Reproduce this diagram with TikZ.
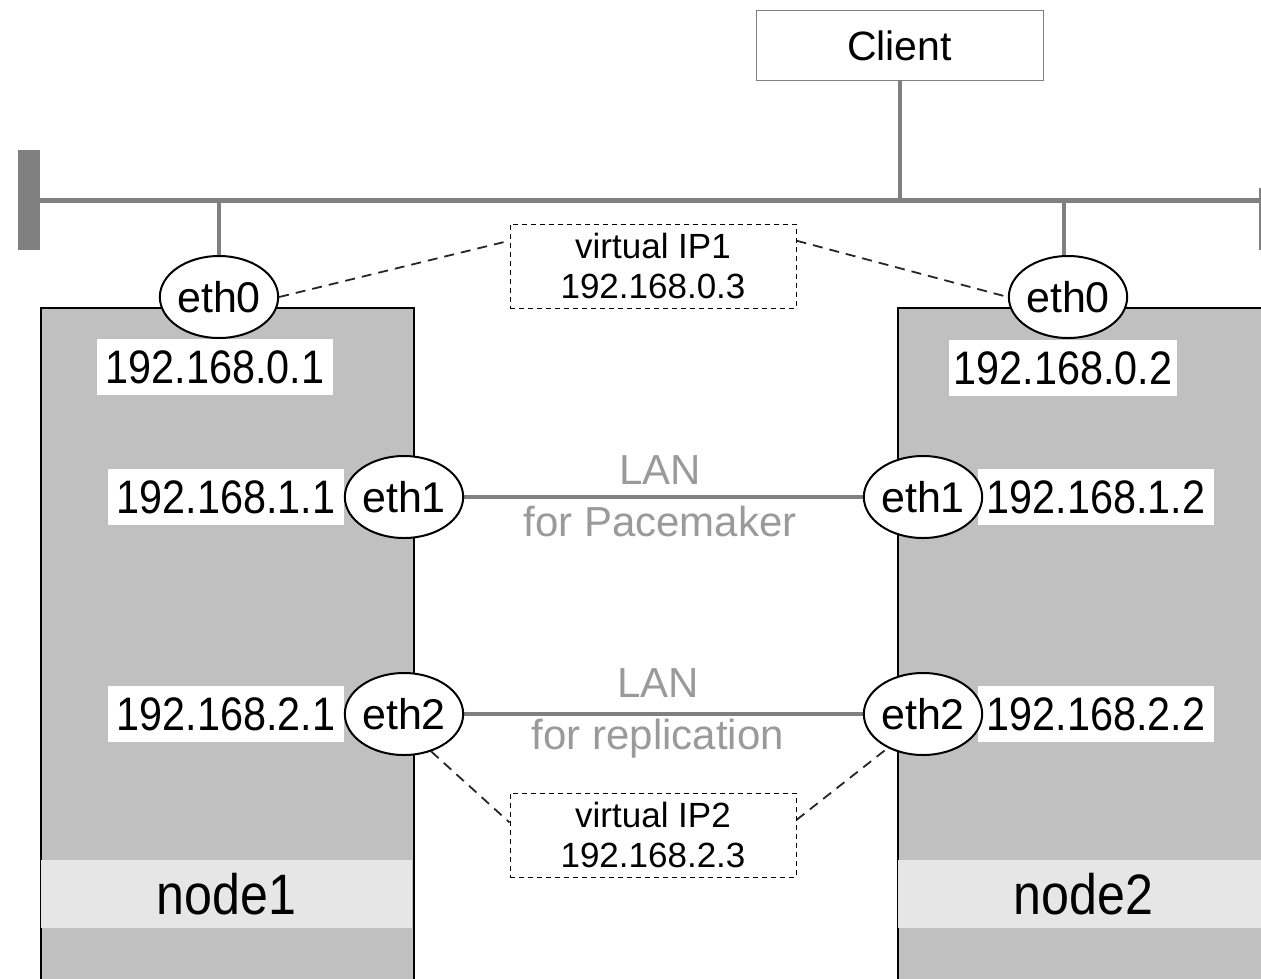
\documentclass[tikz,border=0pt]{standalone}
\usepackage{fontspec}
\setmainfont{Liberation Sans}
\newfontfamily\narrowfont[FakeStretch=0.88]{Liberation Sans}
\usetikzlibrary{shapes.geometric,calc}
\definecolor{boxgray}{HTML}{C0C0C0}
\definecolor{stripe}{HTML}{E6E6E6}
\definecolor{wire}{HTML}{808080}
\definecolor{lantext}{HTML}{9A9A9A}
\pgfdeclarelayer{bg}
\pgfsetlayers{bg,main}
\begin{document}
\begin{tikzpicture}[x=1pt,y=-1pt,
  hostbox/.style={draw=black,line width=2pt,fill=boxgray,anchor=north west,inner sep=0,minimum width=373pt,minimum height=690pt},
  namebar/.style={fill=stripe,minimum width=371pt,minimum height=68pt,inner sep=0,font=\narrowfont\fontsize{57}{60}\selectfont},
  iface/.style={ellipse,draw=black,line width=2pt,fill=white,minimum width=117pt,minimum height=82pt,inner sep=0,font=\fontsize{43}{46}\selectfont},
  iplabel/.style={fill=white,inner sep=0,minimum width=236pt,minimum height=56pt,font=\narrowfont\fontsize{47}{50}\selectfont},
  vipbox/.style={draw=black,dash pattern=on 5pt off 4pt,line width=1pt,minimum width=286pt,minimum height=84pt,inner sep=0,align=center,font=\fontsize{35}{40}\selectfont},
  wireline/.style={draw=wire,line width=4pt},
  vipline/.style={draw=black!85,line width=1.8pt,dash pattern=on 10pt off 7pt},
  lanlabel/.style={text=lantext,align=center,font=\fontsize{42}{52}\selectfont}
]
\useasboundingbox (0,0) rectangle (1261,978);

\begin{pgfonlayer}{bg}
  % hosts
  \node[hostbox] (host1) at (40,307) {};
  \node[hostbox] (host2) at (897,307) {};
  \node[namebar] (name1) at (226.5,894) {node1};
  \node[namebar] (name2) at (1083.5,894) {node2};
  % address labels
  \node[iplabel] (ip01) at (215,367) {192.168.0.1};
  \node[iplabel,minimum width=228pt] (ip02) at (1063,368) {192.168.0.2};
  \node[iplabel] (ip11) at (226,497) {192.168.1.1};
  \node[iplabel] (ip12) at (1096,497) {192.168.1.2};
  \node[iplabel] (ip21) at (226,714) {192.168.2.1};
  \node[iplabel] (ip22) at (1096,714) {192.168.2.2};
  % bus end and client
  \node[fill=wire,minimum width=22pt,minimum height=100pt,inner sep=0] (busL) at (28.5,200) {};
  \node[draw=wire,line width=1pt,fill=white,minimum width=287pt,minimum height=70pt,inner sep=0,font=\fontsize{41}{44}\selectfont] (client) at (899.5,45.5) {Client};
\end{pgfonlayer}

% interfaces
\node[iface] (e0l) at (219,297) {eth0};
\node[iface] (e0r) at (1068,297) {eth0};
\node[iface] (e1l) at (404,497) {eth1};
\node[iface] (e1r) at (923,497) {eth1};
\node[iface] (e2l) at (404,714) {eth2};
\node[iface] (e2r) at (923,714) {eth2};

% virtual IPs
\node[vipbox] (vip1) at (653,266) {virtual IP1\\192.168.0.3};
\node[vipbox] (vip2) at (653,835) {virtual IP2\\192.168.2.3};

% LAN labels
\node[lanlabel] (lan1) at (660,496) {LAN\\for Pacemaker};
\node[lanlabel] (lan2) at (658,713) {LAN\\for replication};

\coordinate (busR) at (1261,200);
\coordinate (rtop) at (1260,188);
\coordinate (rbot) at (1260,250);

\begin{pgfonlayer}{bg}
  \draw[wireline,line width=5pt] (busL.east) -- (busR);
  \draw[wireline,line width=3pt] (rtop) -- (rbot);
  \draw[wireline] (client.south) -- (client.south |- busR);
  \draw[wireline] (e0l.north) -- (e0l.north |- busR);
  \draw[wireline] (e0r.north) ++(-4,0) coordinate (e0rtop) -- (e0rtop |- busR);
  \draw[wireline] (e1l.east) -- (e1r.west);
  \draw[wireline] (e2l.east) -- (e2r.west);
  \draw[vipline] (e0l.east) -- (vip1.170);
  \draw[vipline] (vip1.10) -- (e0r.west);
  \draw[vipline] (e2l.-54) -- (vip2.175);
  \draw[vipline] (vip2.6) -- (e2r.-136);
\end{pgfonlayer}
\end{tikzpicture}
\end{document}
